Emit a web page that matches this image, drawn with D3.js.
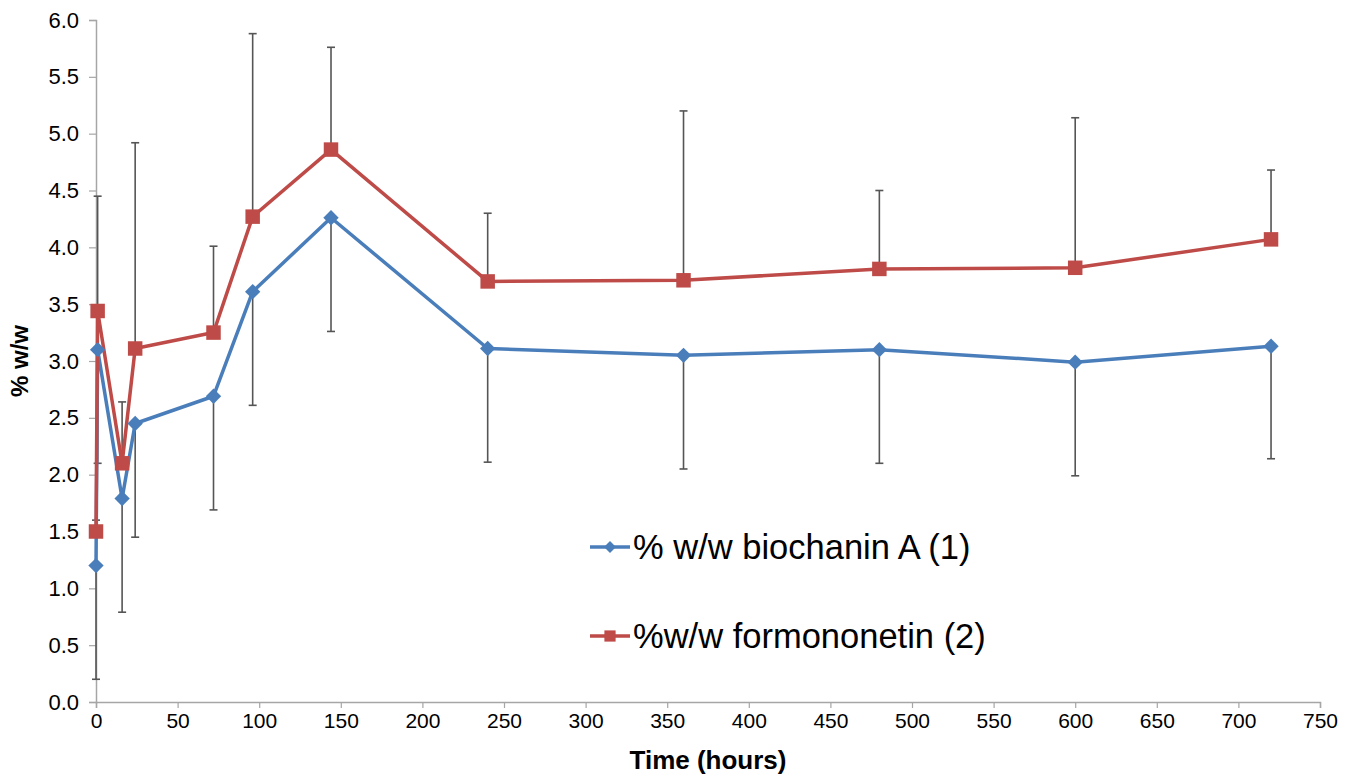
<!DOCTYPE html>
<html>
<head>
<meta charset="utf-8">
<script src="https://cdn.jsdelivr.net/npm/d3@7"></script>
<style>
  body { margin: 0; background: #fff; }
  text { font-family: "Liberation Sans", Arial, sans-serif; }
</style>
</head>
<body>
<div id="chart"></div>
<script>
// Data
var hours = [0, 1, 16, 24, 72, 96, 144, 240, 360, 480, 600, 720];
var biochanin = [1.20, 3.10, 1.79, 2.45, 2.69, 3.61, 4.26, 3.11, 3.05, 3.10, 2.99, 3.13];
var biochaninErr = [1.0, 1.0, 1.0, 1.0, 1.0, 1.0, 1.0, 1.0, 1.0, 1.0, 1.0, 0.99];
var formononetin = [1.50, 3.44, 2.10, 3.11, 3.25, 4.27, 4.86, 3.70, 3.71, 3.81, 3.82, 4.07];
var formononetinErr = [0.10, 1.01, 0.54, 1.81, 0.76, 1.61, 0.90, 0.60, 1.49, 0.69, 1.32, 0.61];
var xTicks = d3.range(0, 751, 50);
var yTicks = d3.range(0, 6.01, 0.5);

var svgWidth = 1358;
var svgHeight = 776;
var margin = { top: 20, right: 38, bottom: 74, left: 96 };
var width = svgWidth - margin.left - margin.right;
var height = svgHeight - margin.top - margin.bottom;

var svg = d3.select("#chart")
  .append("svg")
  .attr("width", svgWidth)
  .attr("height", svgHeight);

var chartGroup = svg.append("g")
  .attr("transform", `translate(${margin.left}, ${margin.top})`);

var xScale = d3.scaleLinear().domain([0, 750]).range([0, width]);
var yScale = d3.scaleLinear().domain([0, 6]).range([height, 0]);

// Axes
var bottomAxis = d3.axisBottom(xScale).tickValues(xTicks).tickSize(6).tickPadding(5)
  .tickFormat(d3.format("d"));
var leftAxis = d3.axisLeft(yScale).tickValues(yTicks).tickSize(7).tickPadding(10)
  .tickFormat(d3.format(".1f"));

var xAxisG = chartGroup.append("g")
  .attr("transform", `translate(0, ${height})`)
  .call(bottomAxis);
var yAxisG = chartGroup.append("g").call(leftAxis);

[xAxisG, yAxisG].forEach(function (g) {
  g.select(".domain").attr("stroke", "#a6a6a6").attr("stroke-width", 1.5);
  g.selectAll(".tick line").attr("stroke", "#a6a6a6").attr("stroke-width", 1.2);
  g.selectAll(".tick text")
    .style("font-family", "'Liberation Sans', Arial, sans-serif")
    .style("font-size", "21px")
    .attr("fill", "#000");
});
yAxisG.selectAll(".tick text").style("font-size", "22px");

var series = [
  { name: "% w/w biochanin A (1)", values: biochanin, err: biochaninErr, dir: -1, color: "#4a7ebb", shape: d3.symbolDiamond2, size: 150 },
  { name: "%w/w formononetin (2)", values: formononetin, err: formononetinErr, dir: 1, color: "#be4b48", shape: d3.symbolSquare, size: 210 }
];

// Error bars (one-sided)
series.forEach(function (s) {
  var bars = chartGroup.append("g").attr("stroke", "#555").attr("stroke-width", 1.6);
  hours.forEach(function (h, i) {
    var x = xScale(h);
    var y0 = yScale(s.values[i]);
    var y1 = yScale(s.values[i] + s.dir * s.err[i]);
    bars.append("line").attr("x1", x).attr("x2", x).attr("y1", y0).attr("y2", y1);
    bars.append("line").attr("x1", x - 4).attr("x2", x + 4).attr("y1", y1).attr("y2", y1);
  });
});

// Lines and markers
var line = d3.line()
  .x((d, i) => xScale(hours[i]))
  .y(d => yScale(d));

series.forEach(function (s) {
  chartGroup.append("path")
    .datum(s.values)
    .attr("fill", "none")
    .attr("stroke", s.color)
    .attr("stroke-width", 3.5)
    .attr("stroke-linejoin", "round")
    .attr("d", line);
});

series.forEach(function (s) {
  chartGroup.selectAll(null)
    .data(s.values)
    .enter()
    .append("path")
    .attr("transform", (d, i) => `translate(${xScale(hours[i])}, ${yScale(d)})`)
    .attr("d", d3.symbol().type(s.shape).size(s.size))
    .attr("fill", s.color);
});

// Legend
var legend = svg.append("g").attr("transform", "translate(590, 0)");
var legendY = [547, 636];
series.forEach(function (s, i) {
  var g = legend.append("g").attr("transform", `translate(0, ${legendY[i]})`);
  g.append("line").attr("x1", 0).attr("x2", 40).attr("stroke", s.color).attr("stroke-width", 3.5);
  g.append("path").attr("transform", "translate(20, 0)")
    .attr("d", d3.symbol().type(s.shape).size(s.size * 0.6)).attr("fill", s.color);
  g.append("text")
    .attr("x", 43)
    .attr("dy", "0.36em")
    .style("font-size", "34.5px")
    .attr("fill", "#000")
    .text(s.name);
});

// Axis labels
svg.append("text")
  .attr("transform", `translate(28, ${margin.top + height / 2}) rotate(-90)`)
  .attr("text-anchor", "middle")
  .style("font-size", "24px")
  .style("font-weight", "bold")
  .text("% w/w");

svg.append("text")
  .attr("x", margin.left + width / 2)
  .attr("y", 769)
  .attr("text-anchor", "middle")
  .style("font-size", "26px")
  .style("font-weight", "bold")
  .text("Time (hours)");
</script>
</body>
</html>
